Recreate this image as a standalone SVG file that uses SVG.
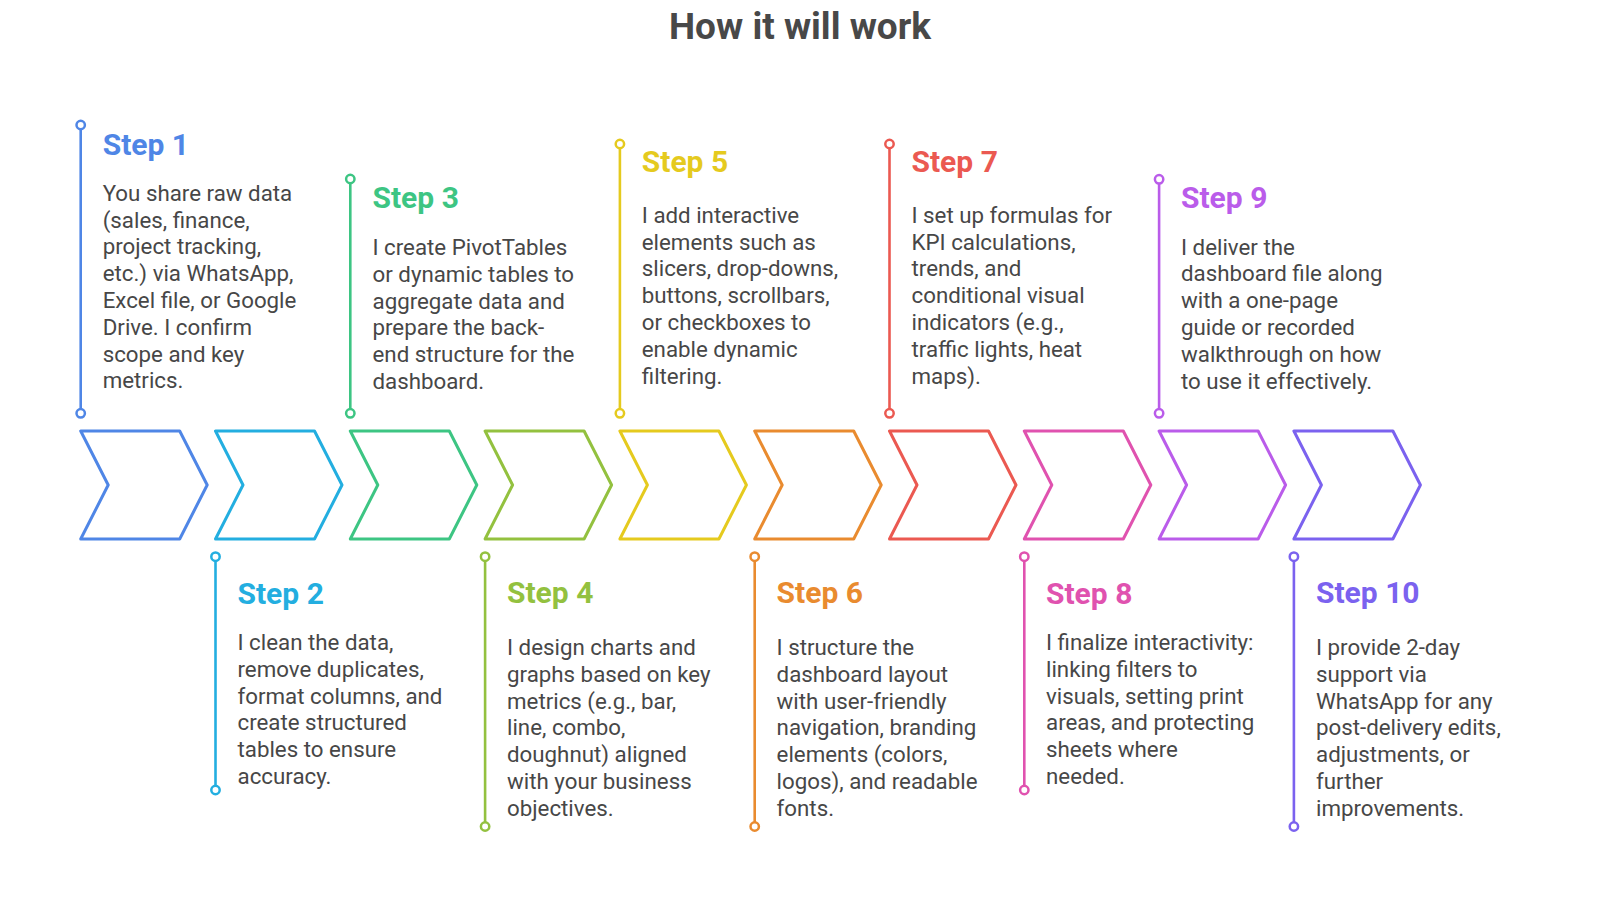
<svg xmlns="http://www.w3.org/2000/svg" width="1600" height="899" viewBox="0 0 1600 899">
<style>
.bg{fill:#ffffff}
.title{font-family:Roboto,"Liberation Sans",sans-serif;font-weight:700;font-size:37px;fill:#484848}
.head{font-family:Roboto,"Liberation Sans",sans-serif;font-weight:700;font-size:30px}
.body{font-family:Roboto,"Liberation Sans",sans-serif;font-size:22.3px;fill:#474747}
.chev{fill:none;stroke-width:3;stroke-linejoin:round}
.pin{stroke-width:2.6;fill:none}
.dot{fill:#ffffff;stroke-width:2.5}
.c1{stroke:#4F86E6;fill:#4F86E6}
.c2{stroke:#23AEE0;fill:#23AEE0}
.c3{stroke:#3DC583;fill:#3DC583}
.c4{stroke:#93C13F;fill:#93C13F}
.c5{stroke:#E5CA1E;fill:#E5CA1E}
.c6{stroke:#E98B2F;fill:#E98B2F}
.c7{stroke:#EB5951;fill:#EB5951}
.c8{stroke:#E052AF;fill:#E052AF}
.c9{stroke:#BA5CEA;fill:#BA5CEA}
.c10{stroke:#7B62EF;fill:#7B62EF}
</style>
<defs>
<path id="chev" d="M0,0 H99 L126.5,54 L99,108 H0 L27.5,54 Z"/>
</defs>
<rect class="bg" x="0" y="0" width="1600" height="899"/>
<text class="title" x="800" y="39" text-anchor="middle">How it will work</text>

<g id="connectors">
  <line class="pin c1" x1="80.7" y1="125" x2="80.7" y2="413.3"/>
  <circle class="dot c1" style="fill:#fff" cx="80.7" cy="125" r="4.2"/>
  <circle class="dot c1" style="fill:#fff" cx="80.7" cy="413.3" r="4.2"/>

  <line class="pin c2" x1="215.5" y1="556.7" x2="215.5" y2="790"/>
  <circle class="dot c2" style="fill:#fff" cx="215.5" cy="556.7" r="4.2"/>
  <circle class="dot c2" style="fill:#fff" cx="215.5" cy="790" r="4.2"/>

  <line class="pin c3" x1="350.3" y1="179" x2="350.3" y2="413.3"/>
  <circle class="dot c3" style="fill:#fff" cx="350.3" cy="179" r="4.2"/>
  <circle class="dot c3" style="fill:#fff" cx="350.3" cy="413.3" r="4.2"/>

  <line class="pin c4" x1="485.1" y1="556.7" x2="485.1" y2="826.5"/>
  <circle class="dot c4" style="fill:#fff" cx="485.1" cy="556.7" r="4.2"/>
  <circle class="dot c4" style="fill:#fff" cx="485.1" cy="826.5" r="4.2"/>

  <line class="pin c5" x1="619.9" y1="144" x2="619.9" y2="413.3"/>
  <circle class="dot c5" style="fill:#fff" cx="619.9" cy="144" r="4.2"/>
  <circle class="dot c5" style="fill:#fff" cx="619.9" cy="413.3" r="4.2"/>

  <line class="pin c6" x1="754.7" y1="556.7" x2="754.7" y2="826.5"/>
  <circle class="dot c6" style="fill:#fff" cx="754.7" cy="556.7" r="4.2"/>
  <circle class="dot c6" style="fill:#fff" cx="754.7" cy="826.5" r="4.2"/>

  <line class="pin c7" x1="889.5" y1="144" x2="889.5" y2="413.3"/>
  <circle class="dot c7" style="fill:#fff" cx="889.5" cy="144" r="4.2"/>
  <circle class="dot c7" style="fill:#fff" cx="889.5" cy="413.3" r="4.2"/>

  <line class="pin c8" x1="1024.3" y1="556.7" x2="1024.3" y2="790"/>
  <circle class="dot c8" style="fill:#fff" cx="1024.3" cy="556.7" r="4.2"/>
  <circle class="dot c8" style="fill:#fff" cx="1024.3" cy="790" r="4.2"/>

  <line class="pin c9" x1="1159.1" y1="179.3" x2="1159.1" y2="413.3"/>
  <circle class="dot c9" style="fill:#fff" cx="1159.1" cy="179.3" r="4.2"/>
  <circle class="dot c9" style="fill:#fff" cx="1159.1" cy="413.3" r="4.2"/>

  <line class="pin c10" x1="1293.9" y1="556.7" x2="1293.9" y2="826.5"/>
  <circle class="dot c10" style="fill:#fff" cx="1293.9" cy="556.7" r="4.2"/>
  <circle class="dot c10" style="fill:#fff" cx="1293.9" cy="826.5" r="4.2"/>
</g>

<g id="step1">
  <use href="#chev" class="chev c1" style="fill:none" x="80.7" y="431"/>
  <text class="head c1" style="stroke:none" x="102.7" y="154.5">Step 1</text>
  <text class="body" x="102.7" y="200.7"><tspan x="102.7">You share raw data</tspan><tspan x="102.7" dy="26.8">(sales, finance,</tspan><tspan x="102.7" dy="26.8">project tracking,</tspan><tspan x="102.7" dy="26.8">etc.) via WhatsApp,</tspan><tspan x="102.7" dy="26.8">Excel file, or Google</tspan><tspan x="102.7" dy="26.8">Drive. I confirm</tspan><tspan x="102.7" dy="26.8">scope and key</tspan><tspan x="102.7" dy="26.8">metrics.</tspan></text>
</g>

<g id="step2">
  <use href="#chev" class="chev c2" style="fill:none" x="215.5" y="431"/>
  <text class="head c2" style="stroke:none" x="237.5" y="603.5">Step 2</text>
  <text class="body" x="237.5" y="650"><tspan x="237.5">I clean the data,</tspan><tspan x="237.5" dy="26.8">remove duplicates,</tspan><tspan x="237.5" dy="26.8">format columns, and</tspan><tspan x="237.5" dy="26.8">create structured</tspan><tspan x="237.5" dy="26.8">tables to ensure</tspan><tspan x="237.5" dy="26.8">accuracy.</tspan></text>
</g>

<g id="step3">
  <use href="#chev" class="chev c3" style="fill:none" x="350.3" y="431"/>
  <text class="head c3" style="stroke:none" x="372.5" y="208">Step 3</text>
  <text class="body" x="372.5" y="255"><tspan x="372.5">I create PivotTables</tspan><tspan x="372.5" dy="26.8">or dynamic tables to</tspan><tspan x="372.5" dy="26.8">aggregate data and</tspan><tspan x="372.5" dy="26.8">prepare the back-</tspan><tspan x="372.5" dy="26.8">end structure for the</tspan><tspan x="372.5" dy="26.8">dashboard.</tspan></text>
</g>

<g id="step4">
  <use href="#chev" class="chev c4" style="fill:none" x="485.1" y="431"/>
  <text class="head c4" style="stroke:none" x="507" y="603">Step 4</text>
  <text class="body" x="507" y="655"><tspan x="507">I design charts and</tspan><tspan x="507" dy="26.8">graphs based on key</tspan><tspan x="507" dy="26.8">metrics (e.g., bar,</tspan><tspan x="507" dy="26.8">line, combo,</tspan><tspan x="507" dy="26.8">doughnut) aligned</tspan><tspan x="507" dy="26.8">with your business</tspan><tspan x="507" dy="26.8">objectives.</tspan></text>
</g>

<g id="step5">
  <use href="#chev" class="chev c5" style="fill:none" x="619.9" y="431"/>
  <text class="head c5" style="stroke:none" x="641.8" y="171.7">Step 5</text>
  <text class="body" x="641.8" y="222.7"><tspan x="641.8">I add interactive</tspan><tspan x="641.8" dy="26.8">elements such as</tspan><tspan x="641.8" dy="26.8">slicers, drop-downs,</tspan><tspan x="641.8" dy="26.8">buttons, scrollbars,</tspan><tspan x="641.8" dy="26.8">or checkboxes to</tspan><tspan x="641.8" dy="26.8">enable dynamic</tspan><tspan x="641.8" dy="26.8">filtering.</tspan></text>
</g>

<g id="step6">
  <use href="#chev" class="chev c6" style="fill:none" x="754.7" y="431"/>
  <text class="head c6" style="stroke:none" x="776.6" y="603">Step 6</text>
  <text class="body" x="776.6" y="655"><tspan x="776.6">I structure the</tspan><tspan x="776.6" dy="26.8">dashboard layout</tspan><tspan x="776.6" dy="26.8">with user-friendly</tspan><tspan x="776.6" dy="26.8">navigation, branding</tspan><tspan x="776.6" dy="26.8">elements (colors,</tspan><tspan x="776.6" dy="26.8">logos), and readable</tspan><tspan x="776.6" dy="26.8">fonts.</tspan></text>
</g>

<g id="step7">
  <use href="#chev" class="chev c7" style="fill:none" x="889.5" y="431"/>
  <text class="head c7" style="stroke:none" x="911.5" y="171.7">Step 7</text>
  <text class="body" x="911.5" y="222.7"><tspan x="911.5">I set up formulas for</tspan><tspan x="911.5" dy="26.8">KPI calculations,</tspan><tspan x="911.5" dy="26.8">trends, and</tspan><tspan x="911.5" dy="26.8">conditional visual</tspan><tspan x="911.5" dy="26.8">indicators (e.g.,</tspan><tspan x="911.5" dy="26.8">traffic lights, heat</tspan><tspan x="911.5" dy="26.8">maps).</tspan></text>
</g>

<g id="step8">
  <use href="#chev" class="chev c8" style="fill:none" x="1024.3" y="431"/>
  <text class="head c8" style="stroke:none" x="1046" y="603.5">Step 8</text>
  <text class="body" x="1046" y="650"><tspan x="1046">I finalize interactivity:</tspan><tspan x="1046" dy="26.8">linking filters to</tspan><tspan x="1046" dy="26.8">visuals, setting print</tspan><tspan x="1046" dy="26.8">areas, and protecting</tspan><tspan x="1046" dy="26.8">sheets where</tspan><tspan x="1046" dy="26.8">needed.</tspan></text>
</g>

<g id="step9">
  <use href="#chev" class="chev c9" style="fill:none" x="1159.1" y="431"/>
  <text class="head c9" style="stroke:none" x="1181" y="208">Step 9</text>
  <text class="body" x="1181" y="254.5"><tspan x="1181">I deliver the</tspan><tspan x="1181" dy="26.8">dashboard file along</tspan><tspan x="1181" dy="26.8">with a one-page</tspan><tspan x="1181" dy="26.8">guide or recorded</tspan><tspan x="1181" dy="26.8">walkthrough on how</tspan><tspan x="1181" dy="26.8">to use it effectively.</tspan></text>
</g>

<g id="step10">
  <use href="#chev" class="chev c10" style="fill:none" x="1293.9" y="431"/>
  <text class="head c10" style="stroke:none" x="1316" y="603">Step 10</text>
  <text class="body" x="1316" y="655"><tspan x="1316">I provide 2-day</tspan><tspan x="1316" dy="26.8">support via</tspan><tspan x="1316" dy="26.8">WhatsApp for any</tspan><tspan x="1316" dy="26.8">post-delivery edits,</tspan><tspan x="1316" dy="26.8">adjustments, or</tspan><tspan x="1316" dy="26.8">further</tspan><tspan x="1316" dy="26.8">improvements.</tspan></text>
</g>
</svg>
